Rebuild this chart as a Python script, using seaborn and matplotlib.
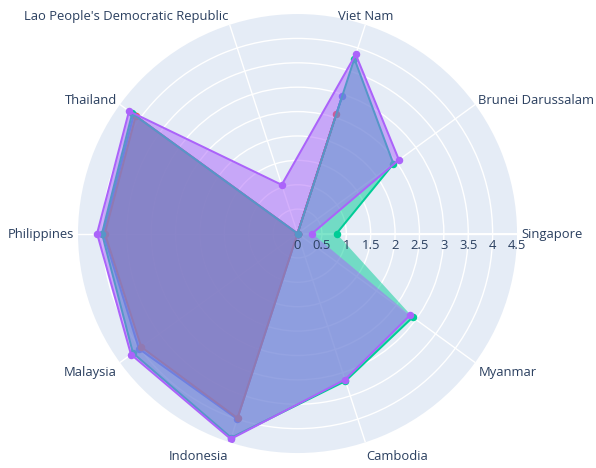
import numpy as np
import matplotlib
matplotlib.use("Agg")
import matplotlib.pyplot as plt
import seaborn as sns

# ---- data ----
categories = ["Singapore", "Brunei Darussalam", "Viet Nam",
              "Lao People's Democratic Republic", "Thailand", "Philippines",
              "Malaysia", "Indonesia", "Cambodia", "Myanmar"]
series_blue = [0, 0, 2.96, 0, 4.15, 3.98, 4.02, 4.00, 0, 0]
series_red = [0, 0, 2.57, 0, 4.10, 3.95, 3.96, 3.98, 0, 0]
series_green = [0.80, 2.43, 3.77, 0, 4.19, 4.01, 4.17, 4.40, 3.18, 2.92]
series_purple = [0.30, 2.57, 3.86, 1.05, 4.27, 4.11, 4.22, 4.43, 3.15, 2.85]
radial_ticks = [0, 0.5, 1, 1.5, 2, 2.5, 3, 3.5, 4, 4.5]
radial_labels = ["0", "0.5", "1", "1.5", "2", "2.5", "3", "3.5", "4", "4.5"]

series = [series_blue, series_red, series_green, series_purple]
colors = ["#636efa", "#EF553B", "#00cc96", "#ab63fa"]
label_align = ["left", "left", "center", "right", "right", "right",
               "right", "right", "left", "left"]

sns.set_style("white")
plt.rcParams["font.family"] = ["Open Sans", "DejaVu Sans"]
TXT = "#2a3f5f"
PX = 0.72  # points per pixel at dpi 100
FS = 13.0  # font size in px

fig = plt.figure(figsize=(5.96, 4.68), dpi=100)
fig.patch.set_facecolor("white")
ax = fig.add_axes([0.1309, 0.032, 0.7366, 0.938], projection="polar")
ax.set_facecolor("#E5ECF6")
ax.set_theta_zero_location("E")
ax.set_theta_direction(1)
ax.set_ylim(0, 4.5)

theta = np.deg2rad(np.arange(len(categories)) * 360.0 / len(categories))

ax.set_xticks(theta)
ax.set_xticklabels([])
ax.set_yticks(radial_ticks[1:-1])
ax.set_yticklabels([])
ax.grid(True, color="white", linewidth=1.0)
ax.spines["polar"].set_visible(False)
ax.tick_params(length=0)
ax.set_axisbelow(True)

# radial axis line
ax.plot([0, 0], [0, 4.5], color="white", linewidth=1.4, zorder=1.5)

for i, (vals, c) in enumerate(zip(series, colors)):
    ax.fill(theta, vals, color=c, alpha=0.5, linewidth=0, zorder=2 + 2 * i)
    sns.lineplot(x=theta, y=vals, ax=ax, sort=False, estimator=None,
                 color=c, linewidth=2 * PX, marker="o", markersize=7.5 * PX,
                 markeredgewidth=0, zorder=3 + 2 * i)
ax.set_xlabel("")
ax.set_ylabel("")

# radial tick labels below the axis line
for v, lab in zip(radial_ticks, radial_labels):
    ax.annotate(lab, xy=(0, v), xytext=(0, -11.5 * PX), textcoords="offset points",
                ha="center", va="center", color=TXT, fontsize=FS * PX,
                annotation_clip=False, zorder=20)

# angular category labels (plotly-like placement)
pad = 4.0
for a, lab, ha in zip(theta, categories, label_align):
    s, co = np.sin(a), np.cos(a)
    ff = 0.2 if s > 1e-9 else 1.0
    dx = co * pad if ha != "center" else 0.0
    base = -s * (pad + FS * ff) + abs(co) * FS * 0.35  # px, down positive
    ax.annotate(lab, xy=(a, 4.5), xytext=(dx * PX, -base * PX),
                textcoords="offset points", ha=ha, va="baseline",
                color=TXT, fontsize=FS * PX, annotation_clip=False, zorder=20)

fig.savefig("out.png", dpi=100, facecolor="white")
